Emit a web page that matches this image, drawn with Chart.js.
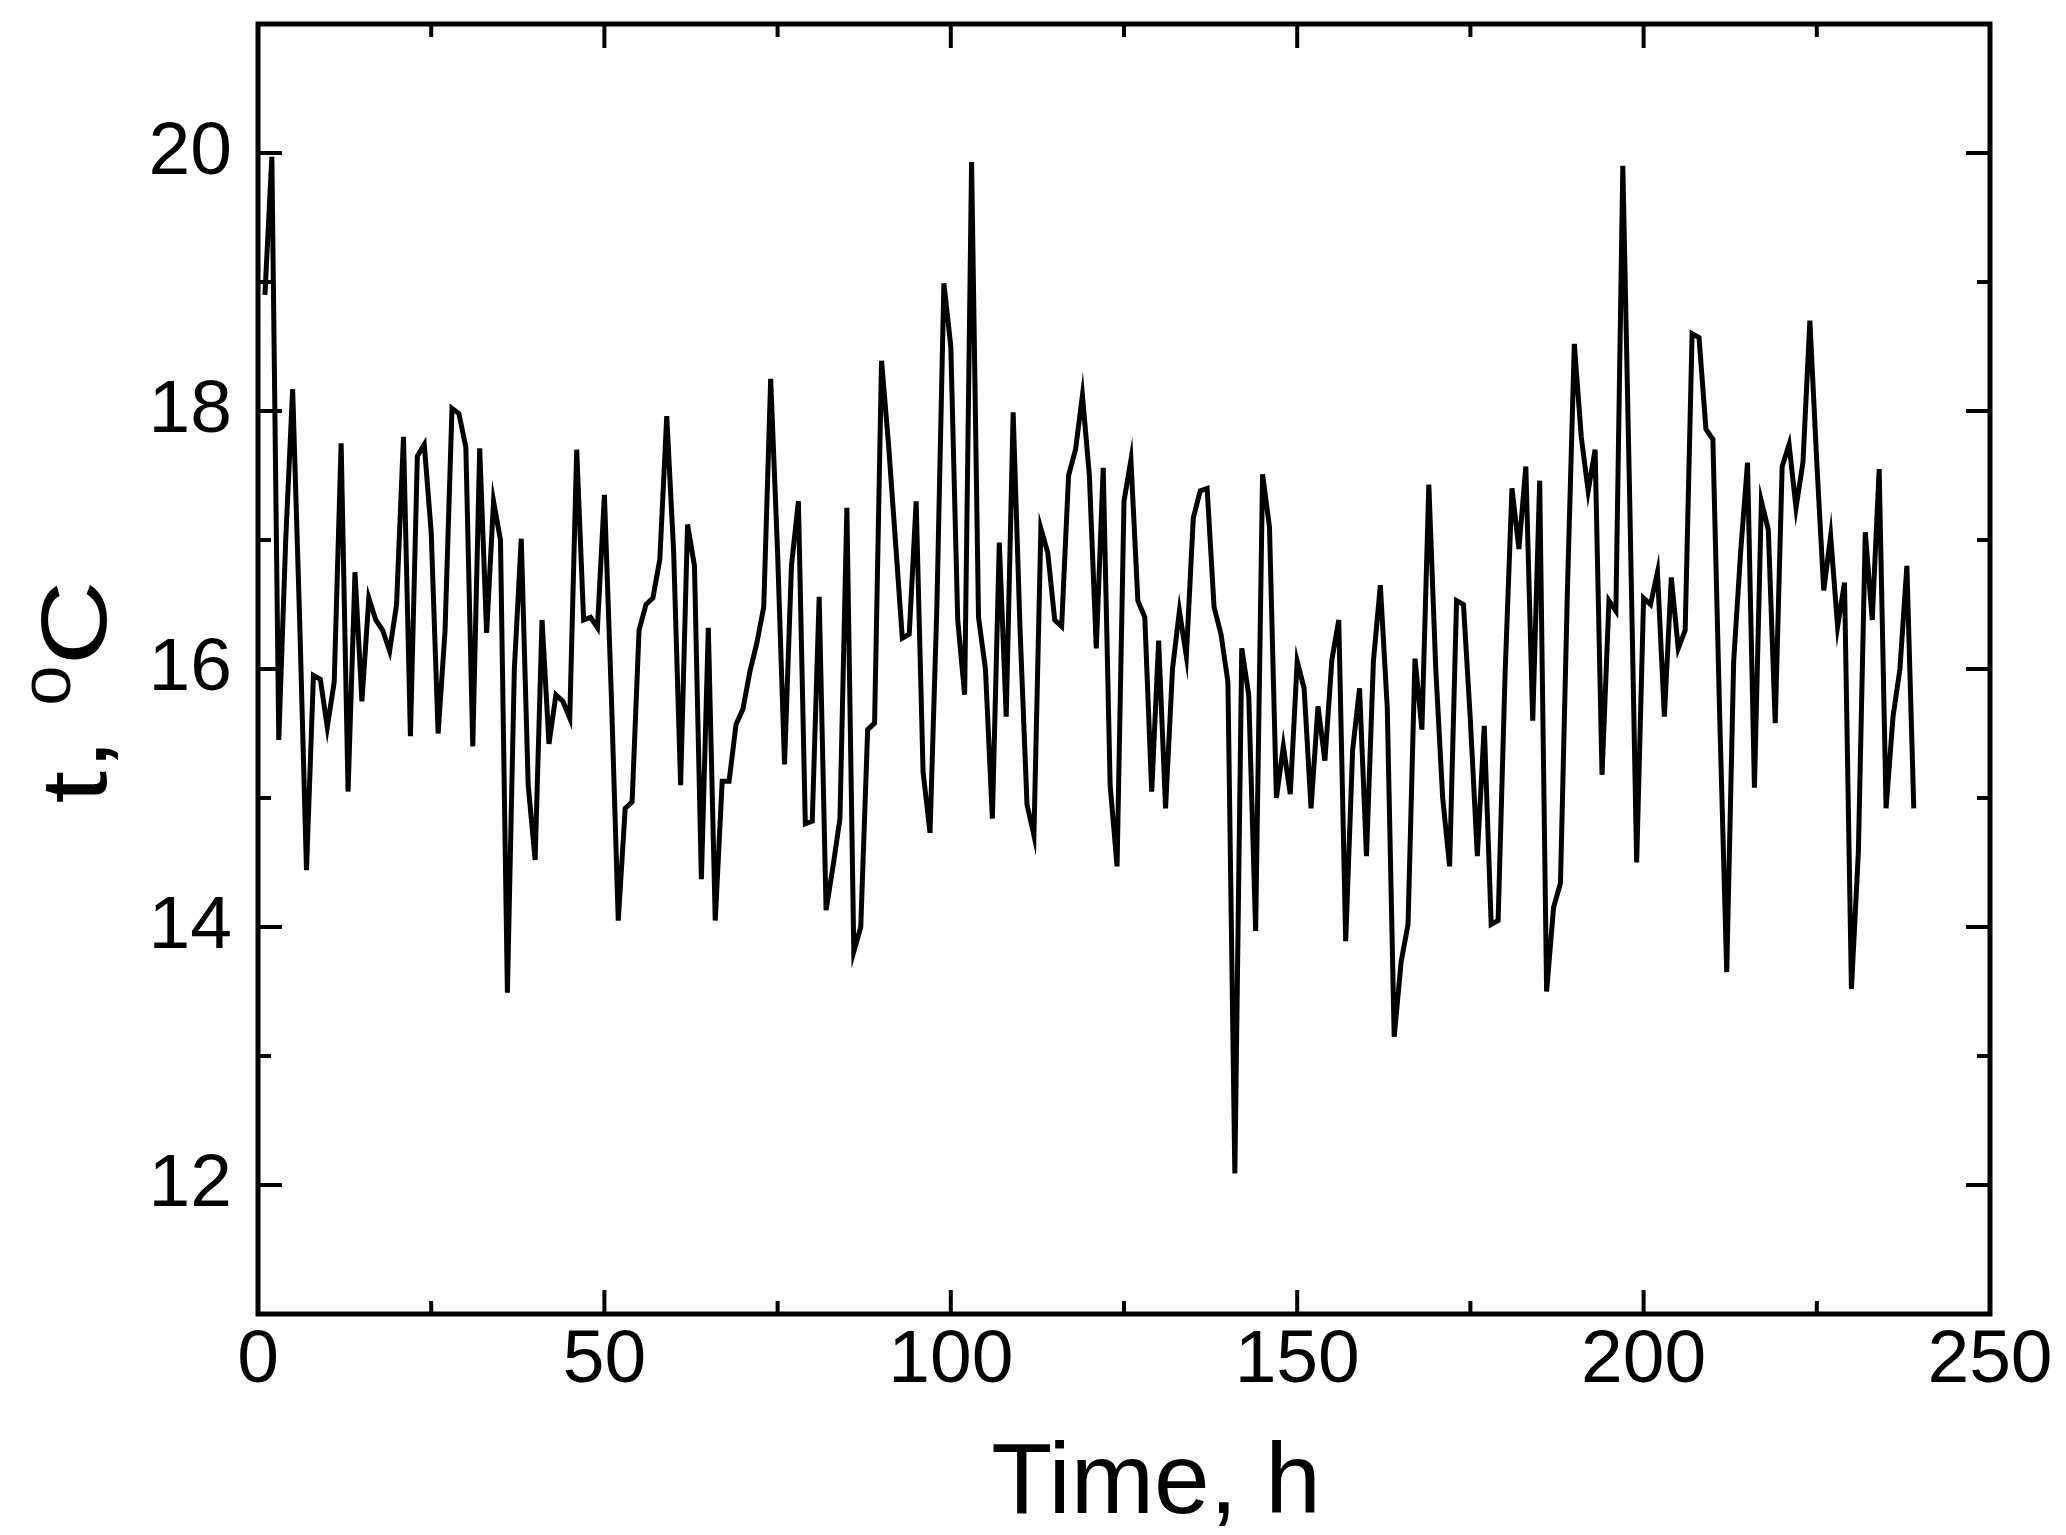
<!DOCTYPE html>
<html>
<head>
<meta charset="utf-8">
<script src="https://cdn.jsdelivr.net/npm/chart.js@4.4.1/dist/chart.umd.min.js"></script>
<style>
  html, body { margin: 0; padding: 0; background: #fff; }
</style>
</head>
<body>
<canvas id="myChart" width="2066" height="1535"></canvas>
<script>
// temperatura horaria (hora 1 .. 239)
var horaInicial = 1;
var temperaturas = [
  18.9, 19.97, 15.45, 17.0, 18.17, 16.4, 14.44, 15.95, 15.92, 15.55,
  15.9, 17.75, 15.05, 16.75, 15.75, 16.55, 16.38, 16.3, 16.14, 16.5,
  17.8, 15.48, 17.65, 17.74, 17.06, 15.5, 16.3, 18.02, 17.98, 17.72,
  15.4, 17.71, 16.28, 17.3, 17.0, 13.49, 16.0, 17.01, 15.1, 14.52,
  16.38, 15.42, 15.8, 15.75, 15.62, 17.7, 16.38, 16.4, 16.32, 17.35,
  15.8, 14.05, 14.92, 14.97, 16.3, 16.5, 16.55, 16.85, 17.96, 16.9,
  15.1, 17.12, 16.8, 14.37, 16.32, 14.05, 15.13, 15.13, 15.57, 15.69,
  15.98, 16.2, 16.48, 18.25, 16.9, 15.26, 16.8, 17.3, 14.8, 14.82,
  16.56, 14.13, 14.47, 14.84, 17.25, 13.81, 14.0, 15.53, 15.58, 18.39,
  17.75, 17.0, 16.24, 16.27, 17.3, 15.2, 14.73, 16.5, 18.99, 18.5,
  16.38, 15.8, 19.93, 16.4, 16.0, 14.84, 16.98, 15.63, 17.99, 16.3,
  14.95, 14.71, 17.09, 16.9, 16.38, 16.33, 17.5, 17.7, 18.12, 17.5,
  16.16, 17.56, 15.1, 14.47, 17.3, 17.62, 16.53, 16.4, 15.05, 16.22,
  14.92, 16.0, 16.45, 16.1, 17.17, 17.38, 17.4, 16.48, 16.27, 15.9,
  12.09, 16.16, 15.8, 13.97, 17.51, 17.1, 15.0, 15.4, 15.03, 16.06,
  15.85, 14.92, 15.71, 15.29, 16.07, 16.38, 13.89, 15.37, 15.85, 14.55,
  16.06, 16.65, 15.7, 13.15, 13.73, 14.02, 16.08, 15.53, 17.43, 16.0,
  15.0, 14.47, 16.53, 16.5, 15.6, 14.55, 15.56, 14.02, 14.05, 15.95,
  17.4, 16.93, 17.57, 15.6, 17.46, 13.5, 14.15, 14.34, 16.6, 18.52,
  17.8, 17.38, 17.7, 15.18, 16.53, 16.45, 19.9, 17.3, 14.5, 16.55,
  16.5, 16.75, 15.63, 16.71, 16.16, 16.3, 18.6, 18.57, 17.86, 17.78,
  15.6, 13.65, 16.06, 16.9, 17.6, 15.08, 17.3, 17.08, 15.58, 17.57,
  17.74, 17.25, 17.6, 18.7, 17.6, 16.61, 17.03, 16.33, 16.67, 13.52,
  14.58, 17.06, 16.38, 17.55, 14.92, 15.63, 16.0, 16.8, 14.92
];

var xTicks = [0, 50, 100, 150, 200, 250];
var xTicksMenores = [25, 75, 125, 175, 225];
var yTicks = [12, 14, 16, 18, 20];
var yTicksMenores = [13, 15, 17, 19];

var pontos = temperaturas.map(function (t, i) {
  return { x: horaInicial + i, y: t };
});

var fonte = 'Liberation Sans, Arial, sans-serif';

// ticks para dentro nos quatro lados, moldura e titulos dos eixos
var ticksDentro = {
  id: 'ticksDentro',
  afterDraw: function (chart) {
    var ctx = chart.ctx, a = chart.chartArea;
    var sx = chart.scales.x, sy = chart.scales.y;
    ctx.save();
    ctx.strokeStyle = '#000';
    ctx.lineWidth = 4;
    ctx.beginPath();
    function tx(v, len) {
      var p = sx.getPixelForValue(v);
      ctx.moveTo(p, a.bottom); ctx.lineTo(p, a.bottom - len);
      ctx.moveTo(p, a.top); ctx.lineTo(p, a.top + len);
    }
    function ty(v, len) {
      var p = sy.getPixelForValue(v);
      ctx.moveTo(a.left, p); ctx.lineTo(a.left + len, p);
      ctx.moveTo(a.right, p); ctx.lineTo(a.right - len, p);
    }
    xTicks.forEach(function (v) { tx(v, 24); });
    xTicksMenores.forEach(function (v) { tx(v, 13); });
    yTicks.forEach(function (v) { ty(v, 24); });
    yTicksMenores.forEach(function (v) { ty(v, 13); });
    ctx.stroke();
    ctx.lineWidth = 5;
    ctx.strokeRect(a.left, a.top, a.right - a.left, a.bottom - a.top);

    ctx.fillStyle = '#000';
    ctx.textBaseline = 'alphabetic';

    // titulo do eixo x
    ctx.font = '100px ' + fonte;
    ctx.textAlign = 'center';
    ctx.fillText('Time, h', 1156, 1513);

    // titulo do eixo y, com o 0 sobrescrito (texto um pouco esticado)
    ctx.textAlign = 'left';
    ctx.translate(106, 692);
    ctx.rotate(-Math.PI / 2);
    ctx.scale(1.28, 1);
    ctx.font = '92px ' + fonte;
    var w1 = ctx.measureText('t, ').width;
    var w3 = ctx.measureText('C').width;
    ctx.font = '56px ' + fonte;
    var w2 = ctx.measureText('0').width;
    var x0 = -(w1 + w2 + w3) / 2;
    ctx.font = '92px ' + fonte;
    ctx.fillText('t, ', x0, 0);
    ctx.fillText('C', x0 + w1 + w2, 0);
    ctx.font = '56px ' + fonte;
    ctx.fillText('0', x0 + w1, -36);
    ctx.restore();
  }
};

var ctx = document.getElementById('myChart').getContext('2d');
var myChart = new Chart(ctx, {
  type: 'line',
  data: {
    datasets: [{
      data: pontos,
      borderColor: '#000',
      borderWidth: 5,
      pointRadius: 0,
      tension: 0,
      fill: false
    }]
  },
  options: {
    responsive: false,
    animation: false,
    devicePixelRatio: 1,
    layout: { padding: { left: 0, right: 76, top: 24, bottom: 0 } },
    plugins: {
      legend: { display: false },
      tooltip: { enabled: false }
    },
    scales: {
      x: {
        type: 'linear',
        min: 0,
        max: 250,
        grid: { display: false },
        border: { display: false },
        afterBuildTicks: function (s) { s.ticks = xTicks.map(function (v) { return { value: v }; }); },
        afterFit: function (s) { s.height = 221; s.paddingLeft = 0; s.paddingRight = 0; },
        ticks: {
          color: '#000',
          padding: -6,
          maxRotation: 0,
          font: { family: fonte, size: 75 }
        }
      },
      y: {
        min: 11,
        max: 21,
        grid: { display: false },
        border: { display: false },
        afterBuildTicks: function (s) { s.ticks = yTicks.map(function (v) { return { value: v }; }); },
        afterFit: function (s) { s.width = 258; s.paddingTop = 0; s.paddingBottom = 0; },
        ticks: {
          color: '#000',
          padding: 18,
          font: { family: fonte, size: 75 }
        }
      }
    }
  },
  plugins: [ticksDentro]
});
</script>
</body>
</html>
